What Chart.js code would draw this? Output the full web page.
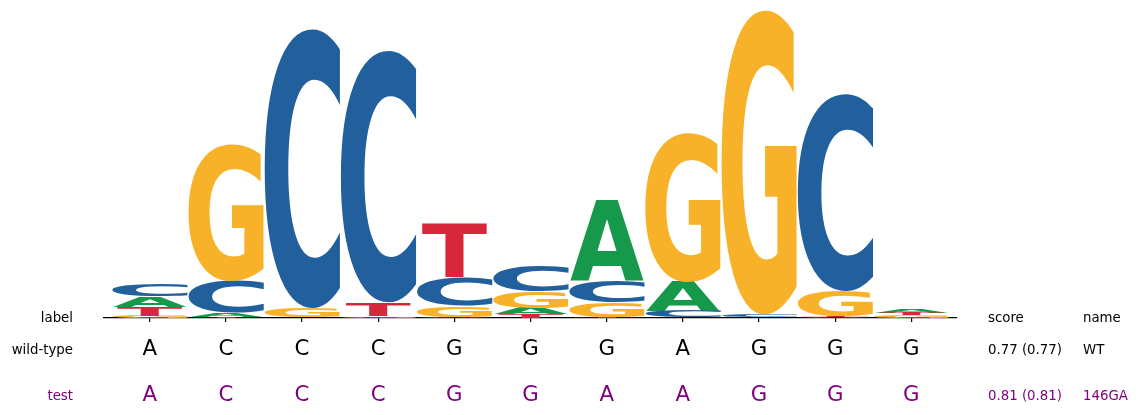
<!DOCTYPE html>
<html>
<head>
<meta charset="utf-8">
<script src="https://cdn.jsdelivr.net/npm/chart.js@4.4.0/dist/chart.umd.min.js"></script>
<style>
  html, body { margin: 0; padding: 0; background: #fff; }
  #wrap { width: 1139px; height: 415px; position: relative; }
</style>
</head>
<body>
<div id="wrap"><canvas id="c"></canvas></div>
<script>
// ---- data (information content, bits) ----
const positions = [0, 1, 2, 3, 4, 5, 6, 7, 8, 9, 10];
const heightA = [0.068, 0.026, 0.002, 0.003, 0.006, 0.039, 0.521, 0.189, 0.003, 0.006, 0.022];
const heightC = [0.074, 0.206, 1.805, 1.628, 0.187, 0.168, 0.135, 0.042, 0.016, 1.275, 0.001];
const heightG = [0.013, 0.882, 0.058, 0.010, 0.071, 0.103, 0.097, 0.964, 1.968, 0.161, 0.016];
const heightT = [0.061, 0.006, 0.003, 0.087, 0.346, 0.026, 0.006, 0.003, 0.003, 0.006, 0.018];
const letters = ['A', 'C', 'G', 'T'];
const letterColors = { A: '#16994B', C: '#22609D', G: '#F8B229', T: '#D7283B' };
const wildTypeSeq = ['A', 'C', 'C', 'C', 'G', 'G', 'G', 'A', 'G', 'G', 'G'];
const testSeq = ['A', 'C', 'C', 'C', 'G', 'G', 'A', 'A', 'G', 'G', 'G'];
const rowLabels = ['wild-type', 'test'];
const rowColors = ['#000000', '#800080'];
const rowScores = ['0.77 (0.77)', '0.81 (0.81)'];
const rowNames = ['WT', '146GA'];

// ---- build floating stacks: letters sorted by height, smallest at bottom ----
const heights = { A: heightA, C: heightC, G: heightG, T: heightT };
const ranges = { A: [], C: [], G: [], T: [] };
positions.forEach((p, i) => {
  const order = letters.slice().sort((a, b) => heights[a][i] - heights[b][i]);
  let acc = 0;
  order.forEach(L => {
    ranges[L][i] = { x: p, y: [acc, acc + heights[L][i]] };
    acc += heights[L][i];
  });
});

const widthFrac = { A: 0.97, C: 1.0, G: 1.0, T: 0.86 };

const glyphPlugin = {
  id: 'glyphs',
  afterDatasetsDraw(chart) {
    const ctx = chart.ctx;
    ctx.save();
    ctx.font = 'bold 200px "DejaVu Sans"';
    ctx.textBaseline = 'alphabetic';
    ctx.textAlign = 'left';
    chart.data.datasets.forEach((ds, di) => {
      const L = ds.label;
      const m = ctx.measureText(L);
      const inkW = m.actualBoundingBoxLeft + m.actualBoundingBoxRight;
      const inkH = m.actualBoundingBoxAscent + m.actualBoundingBoxDescent;
      const meta = chart.getDatasetMeta(di);
      meta.data.forEach(el => {
        const top = Math.min(el.y, el.base);
        const bottom = Math.max(el.y, el.base);
        const h = bottom - top;
        if (h <= 0.05) return;
        const w = el.width * widthFrac[L];
        const left = el.x - w / 2;
        ctx.save();
        ctx.translate(left, bottom);
        ctx.scale(w / inkW, h / inkH);
        ctx.fillStyle = letterColors[L];
        ctx.fillText(L, m.actualBoundingBoxLeft, -m.actualBoundingBoxDescent);
        ctx.restore();
      });
    });
    ctx.restore();
  }
};

const textPlugin = {
  id: 'rows',
  afterDraw(chart) {
    const ctx = chart.ctx;
    const xs = chart.scales.x;
    ctx.save();
    ctx.textBaseline = 'alphabetic';
    ctx.font = '13.33px "DejaVu Sans"';
    ctx.fillStyle = '#000';
    ctx.textAlign = 'right';
    ctx.fillText('label', 73, 322);
    ctx.textAlign = 'left';
    ctx.fillText('score', 988, 322);
    ctx.fillText('name', 1083, 322);
    const smallBase = [354, 400];
    const bigBase = [355, 401];
    [wildTypeSeq, testSeq].forEach((seq, r) => {
      ctx.fillStyle = rowColors[r];
      ctx.font = '13.33px "DejaVu Sans"';
      ctx.textAlign = 'right';
      ctx.fillText(rowLabels[r], 73, smallBase[r]);
      ctx.textAlign = 'left';
      ctx.fillText(rowScores[r], 988, smallBase[r]);
      ctx.fillText(rowNames[r], 1083, smallBase[r]);
      ctx.font = '21.3px "DejaVu Sans"';
      ctx.textAlign = 'center';
      seq.forEach((s, i) => {
        ctx.fillText(s, xs.getPixelForValue(positions[i]), bigBase[r]);
      });
    });
    ctx.restore();
  }
};

new Chart(document.getElementById('c'), {
  type: 'bar',
  data: {
    datasets: letters.map(L => ({
      label: L,
      data: ranges[L],
      backgroundColor: 'rgba(0,0,0,0)',
      borderWidth: 0
    }))
  },
  options: {
    responsive: true,
    maintainAspectRatio: false,
    animation: false,
    devicePixelRatio: 1,
    datasets: { bar: { grouped: false, barPercentage: 1, categoryPercentage: 0.995 } },
    layout: { padding: { left: 104, right: 182, top: 8, bottom: 0 } },
    plugins: { legend: { display: false }, tooltip: { enabled: false } },
    scales: {
      x: {
        type: 'linear',
        offset: false,
        min: -0.6,
        max: 10.6,
        afterBuildTicks: s => { s.ticks = positions.map(v => ({ value: v })); },
        afterFit: s => { s.height = 97; },
        ticks: { display: false },
        grid: { display: true, offset: false, drawOnChartArea: false, drawTicks: true, tickLength: 4, color: '#000', lineWidth: 1.2 },
        border: { display: true, color: '#000', width: 1.3 }
      },
      y: {
        display: false,
        min: 0,
        max: 2.0,
        stacked: false
      }
    }
  },
  plugins: [glyphPlugin, textPlugin]
});
</script>
</body>
</html>
